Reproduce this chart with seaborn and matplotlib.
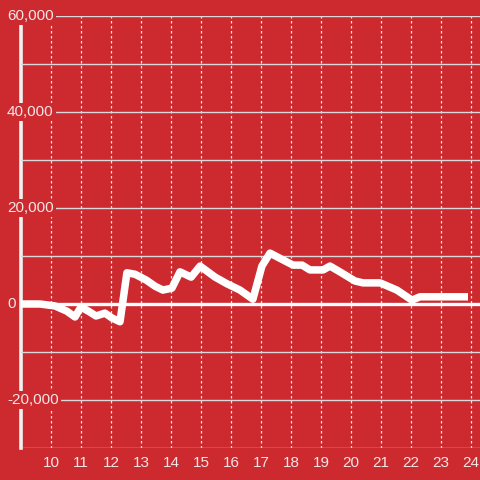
import numpy as np
import pandas as pd
import matplotlib
matplotlib.use('Agg')
import matplotlib.pyplot as plt
import seaborn as sns
from matplotlib.ticker import FuncFormatter

# hours of the day and running value
hours = [9.0, 9.63, 10.13, 10.53, 10.8, 11.0, 11.3, 11.5, 11.8, 12.03, 12.3,
         12.53, 12.8, 13.17, 13.47, 13.73, 14.03, 14.3, 14.67, 14.97, 15.47,
         15.87, 16.3, 16.73, 17.03, 17.3, 17.73, 18.07, 18.37, 18.63, 19.07,
         19.3, 19.63, 20.13, 20.4, 20.97, 21.53, 22.03, 22.3, 23.9]
values = [0, 0, -400, -1500, -2700, -600, -1700, -2500, -1900, -2900, -3700,
          6500, 6200, 5000, 3700, 2900, 3300, 6700, 5600, 7900, 5600,
          4200, 2900, 1000, 7900, 10600, 9200, 8100, 8100, 7100, 7100,
          7900, 6700, 4800, 4400, 4400, 2900, 800, 1500, 1500]
x_ticks = list(range(10, 25))
y_ticks = [-30000, -20000, -10000, 0, 10000, 20000, 30000, 40000, 50000, 60000]
y_labels = [-20000, 0, 20000, 40000, 60000]

red = '#cc2a2f'
txt = '#f3e6e6'

sns.set_style('white')
plt.rcParams['font.family'] = ['Liberation Sans', 'DejaVu Sans']

df = pd.DataFrame({'hour': hours, 'value': values})

fig = plt.figure(figsize=(4.8, 4.8), dpi=100, facecolor=red)
ax = fig.add_axes([21/480, 32/480, 1 - 21/480, 432/480])
ax.set_facecolor(red)

sns.lineplot(data=df, x='hour', y='value', ax=ax, color='white', lw=5.4,
             zorder=5, solid_joinstyle='round', solid_capstyle='butt')
ax.axhline(0, color='white', lw=2.4, zorder=4)

ax.set_xlim(9.0, 24.3)
ax.set_ylim(-30000, 60000)

ax.set_xticks(x_ticks)
ax.set_yticks(y_ticks)
ax.yaxis.set_major_formatter(FuncFormatter(
    lambda v, p: f'{int(v):,}' if v in y_labels else ''))

ax.grid(axis='y', color='#d9d9d9', lw=1)
ax.grid(axis='x', color='#e6e6e6', lw=0.9, linestyle=(0, (2, 2)))

for s in ['top', 'right', 'bottom']:
    ax.spines[s].set_visible(False)
ax.spines['left'].set_color('#f2f2f2')
ax.spines['left'].set_linewidth(2.6)
ax.spines['left'].set_zorder(2.5)

ax.tick_params(axis='x', length=0, pad=6, labelsize=11, labelcolor=txt)
ax.tick_params(axis='y', length=0, pad=10, labelsize=11, labelcolor=txt)
ax.yaxis.set_zorder(3)
for lab in ax.get_yticklabels():
    lab.set_horizontalalignment('left')
    lab.set_verticalalignment('center')
    lab.set_bbox(dict(facecolor=red, edgecolor='none', pad=1.5))

ax.set_xlabel('')
ax.set_ylabel('')

fig.savefig('out.png', dpi=100, facecolor=red)
